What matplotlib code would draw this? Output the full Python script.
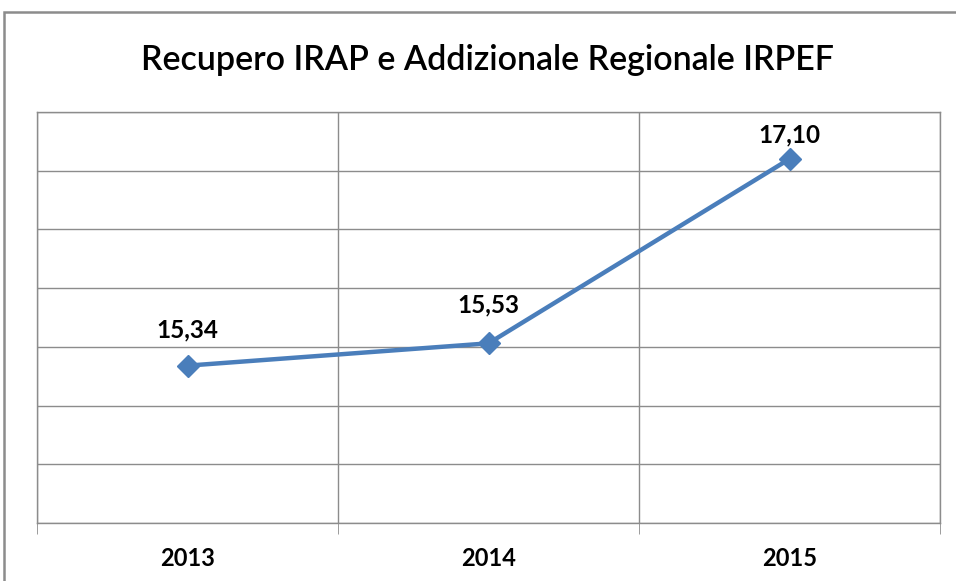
import matplotlib
matplotlib.use("Agg")
import matplotlib.pyplot as plt
from matplotlib.patches import Rectangle

years = ["2013", "2014", "2015"]
values = [15.34, 15.53, 17.10]
labels = ["15,34", "15,53", "17,10"]
label_offsets = [36, 38, 24]  # px above marker

W, H = 956, 581
fig = plt.figure(figsize=(W/100, H/100), dpi=100)
fig.patch.set_facecolor("white")

# outer chart border
fig.patches.append(Rectangle((4/W, -0.05), 1.2, (H-12)/H + 0.05, transform=fig.transFigure,
                             fill=False, edgecolor="#8c8c8c", linewidth=1.8))

ax = fig.add_axes([37/W, (H-523)/H, (940-37)/W, (523-112)/H])
x = list(range(len(years)))
ax.plot(x, values, color="#4A7EBB", linewidth=3.2, marker="D", markersize=11,
        markerfacecolor="#4A7EBB", markeredgecolor="#4A7EBB", zorder=3)

ax.set_xlim(-0.5, len(years) - 0.5)
ax.set_ylim(14.0, 17.5)
ax.set_yticks([14 + 0.5*i for i in range(8)])
ax.set_yticklabels([])
ax.tick_params(axis="y", length=0)
ax.set_xticks(x)
ax.set_xticklabels(years, fontsize=17, fontweight="bold", family="Lato")
ax.tick_params(axis="x", length=0, pad=17)
ax.set_xticks([i - 0.5 for i in range(len(years) + 1)], minor=True)
ax.tick_params(axis="x", which="minor", length=8, color="#8c8c8c", direction="out")
ax.grid(True, axis="y", color="#8c8c8c", linewidth=1)
ax.grid(True, axis="x", which="minor", color="#8c8c8c", linewidth=1)
for s in ax.spines.values():
    s.set_color("#8c8c8c")
    s.set_linewidth(1)

for xi, v, lab, off in zip(x, values, labels, label_offsets):
    ax.annotate(lab, (xi, v), xytext=(0, off*0.72), textcoords="offset points",
                ha="center", va="center", fontsize=17.5, fontweight="bold", family="Lato")

fig.text(487/W, (H-60)/H, "Recupero IRAP e Addizionale Regionale IRPEF",
         ha="center", va="center", fontsize=24.5, family="Lato", fontweight="semibold")

fig.savefig("out.png", dpi=100)
